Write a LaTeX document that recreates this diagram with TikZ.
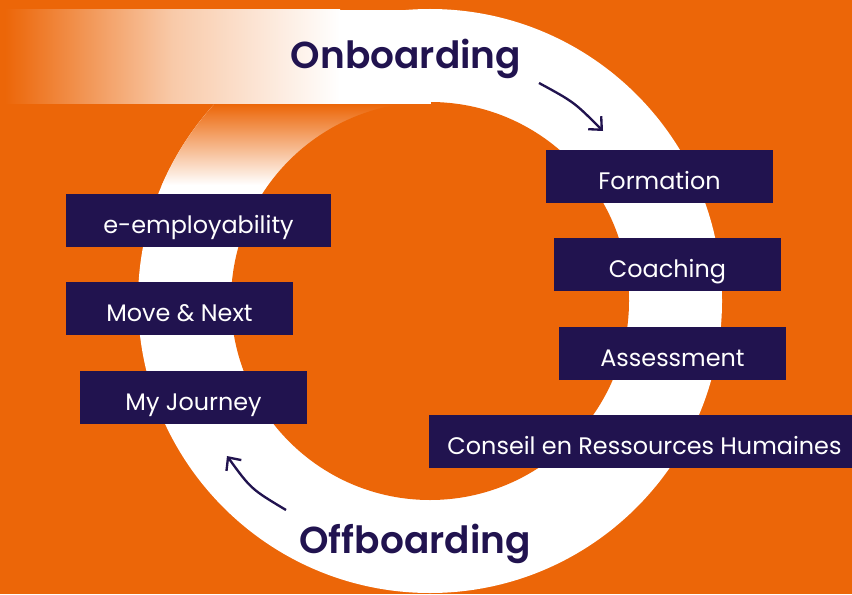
\documentclass[tikz,border=0pt]{standalone}
\usepackage{fontspec}
\setmainfont{Poppins}[BoldFont={Poppins SemiBold}]
\usetikzlibrary{arrows.meta}
\definecolor{bgorange}{HTML}{EC6608}
\definecolor{navy}{HTML}{21134F}

\begin{document}
\begin{tikzpicture}[x=0.03cm, y=-0.03cm]
\tikzstyle{box} = [rectangle, fill=navy, text=white, inner sep=0pt, text height=1.18cm, text depth=0.41cm, font=\fontsize{20.4}{24}\selectfont]
\tikzstyle{title} = [text=navy, anchor=base, font=\fontsize{32}{38}\selectfont\bfseries]
\tikzstyle{arrow} = [line width=2pt, navy, -{Straight Barb[length=3mm, width=5.5mm]}]

\useasboundingbox (0,0) rectangle (852,594);
\clip (0,0) rectangle (852,594);
\fill [bgorange] (0,0) rectangle (852,594);

% ring
\fill [white] (430,301) circle (292);
\begin{scope}
\clip (430,301) circle (292);
\shade [top color=bgorange, bottom color=white] (0,104) rectangle (430,185);
\end{scope}
\fill [bgorange] (430,301) circle (199);

% fading band on top
\shade [left color=bgorange, right color=white, middle color=bgorange!35] (5,10) rectangle (340,104);
\fill [white] (339,10) rectangle (431,104);

\node (onb) [title] at (406,69) {Onboarding};
\node (offb) [title] at (415,553) {Offboarding};

\coordinate (onstart) at (539,83);
\coordinate (onend) at (603,131);
\coordinate (offstart) at (286,510);
\coordinate (offend) at (227,456);
\draw [arrow] (onstart) .. controls (574,102) .. (onend);
\draw [arrow] (offstart) .. controls (251,489) .. (offend);

\node (formation) [box, minimum width=6.81cm] at (659.5,176.5) {Formation};
\node (coaching) [box, minimum width=6.81cm] at (667.5,264.5) {Coaching};
\node (assess) [box, minimum width=6.81cm] at (672.5,353.5) {Assessment};
\node (conseil) [box, minimum width=12.93cm] at (644.5,441.5) {Conseil en Ressources Humaines};

\node (employ) [box, minimum width=7.95cm] at (198.5,220.5) {e-employability};
\node (move) [box, minimum width=6.81cm] at (179.5,308.5) {Move \& Next};
\node (journey) [box, minimum width=6.81cm] at (193.5,397.5) {My Journey};
\end{tikzpicture}
\end{document}
